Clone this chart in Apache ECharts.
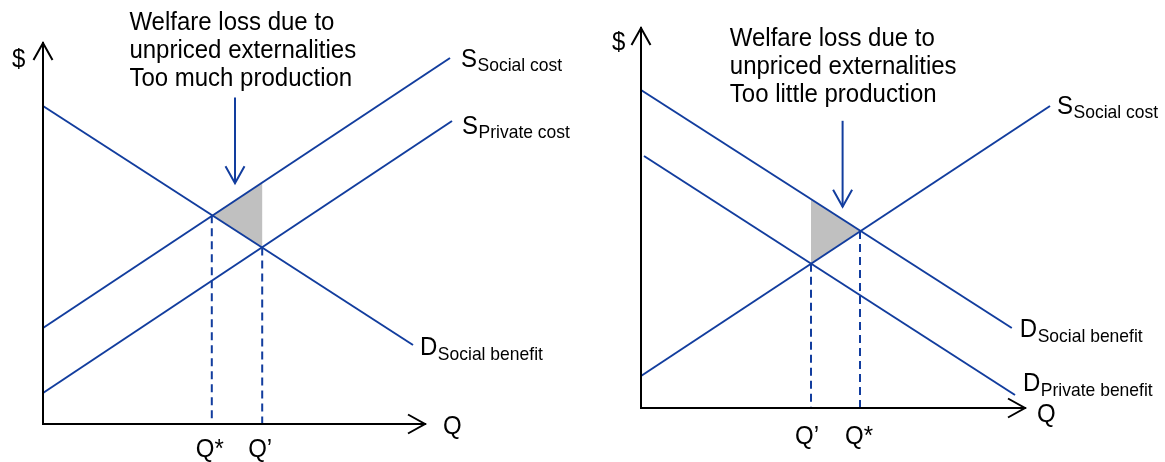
<!DOCTYPE html>
<html><head><meta charset="utf-8">
<script src="https://cdn.jsdelivr.net/npm/echarts@6/dist/echarts.min.js"></script>
<style>html,body{margin:0;padding:0;background:#fff}#chart{width:1165px;height:462px}</style>
</head><body><div id="chart"></div>
<script>
// ---------------- data ----------------
// Left panel: negative externality (too much production)
const leftDemandSocial  = [[0, 79.5], [92.5, 19.75]];
const leftSupplySocial  = [[0, 24], [101.75, 91.5]];
const leftSupplyPrivate = [[0, 7.75], [102.25, 75.75]];
const leftQuantities = [42.2, 54.8];          // Q*, Q'
const leftPrices     = [52.2, 44.1];          // price at Q*, at Q'
const leftQLabels    = ['Q*', 'Q\u2019'];
const leftLossTriangle = [[42.2, 52.2], [54.8, 44.1], [54.8, 60.3]];
const leftArrow   = [48, 81.6, 60.2];         // x, tail y, tip y
const leftAxisEnd = [95.5, 95.25];            // where the drawn axes end (x, y)
const leftNote    = ['Welfare loss due to', 'unpriced externalities', 'Too much production'];
const leftNoteAt  = [21.6, 100.4];

// Right panel: positive externality (too little production)
const rightDemandSocial  = [[0, 79.5], [92.7, 20]];
const rightDemandPrivate = [[0.75, 63], [93.5, 3.25]];
const rightSupplySocial  = [[0, 8], [102.25, 75.5]];
const rightQuantities = [42.5, 54.75];        // Q', Q*
const rightPrices     = [36.05, 44.25];
const rightQLabels    = ['Q\u2019', 'Q*'];
const rightLossTriangle = [[42.5, 52.2], [42.5, 36.05], [54.75, 44.25]];
const rightArrow   = [50.4, 71.8, 50.3];
const rightAxisEnd = [96, 95];
const rightNote    = ['Welfare loss due to', 'unpriced externalities', 'Too little production'];
const rightNoteAt  = [22.2, 92.4];

// scale extents of the two coordinate systems
const leftScaleMax  = [135, 105];
const rightScaleMax = [130, 100];

// ---------------- styling ----------------
const BLUE = '#123d9e';
const GRAY = '#c0c0c0';
const FONT = '"Liberation Sans", Arial, sans-serif';
const MAIN_SIZE = 24, SUB_SIZE = 17.5, STRETCH = 1.1;

const ctx = document.createElement('canvas').getContext('2d');
function textWidth(t, size) { ctx.font = size + 'px ' + FONT; return ctx.measureText(t).width; }

const chart = echarts.init(document.getElementById('chart'), null, {renderer: 'canvas'});

function axisPair(grid, max) {
  const common = {gridIndex: grid, type: 'value', min: 0, show: false,
    splitLine: {show: false}, axisLine: {show: false}, axisTick: {show: false}, axisLabel: {show: false}};
  return {x: Object.assign({}, common, {max: max[0]}), y: Object.assign({}, common, {max: max[1]})};
}

function textEl(x, y, text, size, align) {
  return {
    type: 'text', x: x, y: y, scaleY: STRETCH,
    style: {text: text, x: 0, y: 0, fill: '#000', fontSize: size, fontFamily: FONT,
            textAlign: align || 'left', textVerticalAlign: 'middle', verticalAlign: 'middle'}
  };
}

function panelSeries(idx, p) {
  const base = {xAxisIndex: idx, yAxisIndex: idx, silent: true, animation: false};
  const s = [];
  // welfare-loss triangle
  s.push(Object.assign({}, base, {
    type: 'custom', z: 1, clip: false,
    data: [p.triangle.flat()],
    renderItem: function (params, api) {
      const pts = [];
      for (let i = 0; i < 3; i++) pts.push(api.coord([api.value(2 * i), api.value(2 * i + 1)]));
      return {type: 'polygon', shape: {points: pts}, style: {fill: GRAY, stroke: null}};
    }
  }));
  // curves
  p.curves.forEach(function (c) {
    s.push(Object.assign({}, base, {
      type: 'line', z: 3, data: c, symbol: 'none', showSymbol: false, clip: false,
      lineStyle: {color: BLUE, width: 2}
    }));
  });
  // dashed drop lines
  p.quantities.forEach(function (q, i) {
    s.push(Object.assign({}, base, {
      type: 'line', z: 2, data: [[q, p.prices[i]], [q, 0]], symbol: 'none', showSymbol: false, clip: false,
      lineStyle: {color: BLUE, width: 2, type: [8, 5]}
    }));
  });
  // axes with open arrowheads (dir 0 = right, 1 = up)
  s.push(Object.assign({}, base, {
    type: 'custom', z: 4, clip: false,
    data: [[p.axisEnd[0], 0, 0], [0, p.axisEnd[1], 1]],
    renderItem: function (params, api) {
      const o = api.coord([0, 0]);
      const t = api.coord([api.value(0), api.value(1)]);
      const pts = api.value(2) === 0
        ? [[t[0] - 17, t[1] - 9.5], t, [t[0] - 17, t[1] + 9.5]]
        : [[t[0] - 9.5, t[1] + 17], t, [t[0] + 9.5, t[1] + 17]];
      return {type: 'group', children: [
        {type: 'line', shape: {x1: o[0], y1: o[1], x2: t[0], y2: t[1]}, style: {stroke: '#000', lineWidth: 2, lineCap: 'square'}},
        {type: 'polyline', shape: {points: pts}, style: {stroke: '#000', lineWidth: 2, fill: null}}
      ]};
    }
  }));
  // annotation arrow
  s.push(Object.assign({}, base, {
    type: 'custom', z: 4, clip: false,
    data: [p.arrow],
    renderItem: function (params, api) {
      const a = api.coord([api.value(0), api.value(1)]);
      const t = api.coord([api.value(0), api.value(2)]);
      return {type: 'group', children: [
        {type: 'line', shape: {x1: a[0], y1: a[1], x2: t[0], y2: t[1]}, style: {stroke: BLUE, lineWidth: 2}},
        {type: 'polyline', shape: {points: [[t[0] - 9.5, t[1] - 17], t, [t[0] + 9.5, t[1] - 17]]},
         style: {stroke: BLUE, lineWidth: 2, fill: null}}
      ]};
    }
  }));
  // text labels
  const labels = p.labels;
  s.push(Object.assign({}, base, {
    type: 'custom', z: 5, clip: false,
    data: labels.map(function (l) { return l.at; }),
    renderItem: function (params, api) {
      const l = labels[params.dataIndex];
      const c = api.coord([api.value(0), api.value(1)]);
      const x = c[0] + l.dx, y = c[1] + l.dy;
      const kids = [];
      if (l.lines) {
        l.lines.forEach(function (t, i) { kids.push(textEl(x, y + i * 28.3, t, MAIN_SIZE)); });
      } else {
        kids.push(textEl(x, y, l.main, MAIN_SIZE));
        if (l.sub) kids.push(textEl(x + textWidth(l.main, MAIN_SIZE) + 0.5, y + 6.2, l.sub, SUB_SIZE));
      }
      return {type: 'group', children: kids};
    }
  }));
  return s;
}

const leftAxes = axisPair(0, leftScaleMax);
const rightAxes = axisPair(1, rightScaleMax);

const leftPanel = {
  triangle: leftLossTriangle,
  curves: [leftDemandSocial, leftSupplySocial, leftSupplyPrivate],
  quantities: leftQuantities, prices: leftPrices, axisEnd: leftAxisEnd, arrow: leftArrow,
  labels: [
    {at: leftSupplySocial[1], main: 'S', sub: 'Social cost', dx: 11, dy: 1.3},
    {at: leftSupplyPrivate[1], main: 'S', sub: 'Private cost', dx: 10, dy: 5.7},
    {at: leftDemandSocial[1], main: 'D', sub: 'Social benefit', dx: 7, dy: 3},
    {at: [leftAxisEnd[0], 0], main: 'Q', dx: 18, dy: 3},
    {at: [0, leftAxisEnd[1]], main: '$', dx: -31, dy: 17},
    {at: [leftQuantities[0], 0], main: leftQLabels[0], dx: -16, dy: 26},
    {at: [leftQuantities[1], 0], main: leftQLabels[1], dx: -14, dy: 26},
    {at: leftNoteAt, lines: leftNote, dx: 0, dy: 0}
  ]
};
const rightPanel = {
  triangle: rightLossTriangle,
  curves: [rightDemandSocial, rightDemandPrivate, rightSupplySocial],
  quantities: rightQuantities, prices: rightPrices, axisEnd: rightAxisEnd, arrow: rightArrow,
  labels: [
    {at: rightSupplySocial[1], main: 'S', sub: 'Social cost', dx: 7, dy: 0.7},
    {at: rightDemandSocial[1], main: 'D', sub: 'Social benefit', dx: 8, dy: 2},
    {at: rightDemandPrivate[1], main: 'D', sub: 'Private benefit', dx: 8, dy: -11},
    {at: [rightAxisEnd[0], 0], main: 'Q', dx: 12, dy: 7},
    {at: [0, rightAxisEnd[1]], main: '$', dx: -29, dy: 15},
    {at: [rightQuantities[0], 0], main: rightQLabels[0], dx: -16, dy: 28.5},
    {at: [rightQuantities[1], 0], main: rightQLabels[1], dx: -15, dy: 28.5},
    {at: rightNoteAt, lines: rightNote, dx: 0, dy: 0}
  ]
};

chart.setOption({
  animation: false,
  backgroundColor: '#fff',
  grid: [
    {left: 43, top: 4, width: 540, height: 420},
    {left: 641, top: 8, width: 520, height: 400}
  ],
  xAxis: [leftAxes.x, rightAxes.x],
  yAxis: [leftAxes.y, rightAxes.y],
  series: panelSeries(0, leftPanel).concat(panelSeries(1, rightPanel))
});
</script></body></html>
